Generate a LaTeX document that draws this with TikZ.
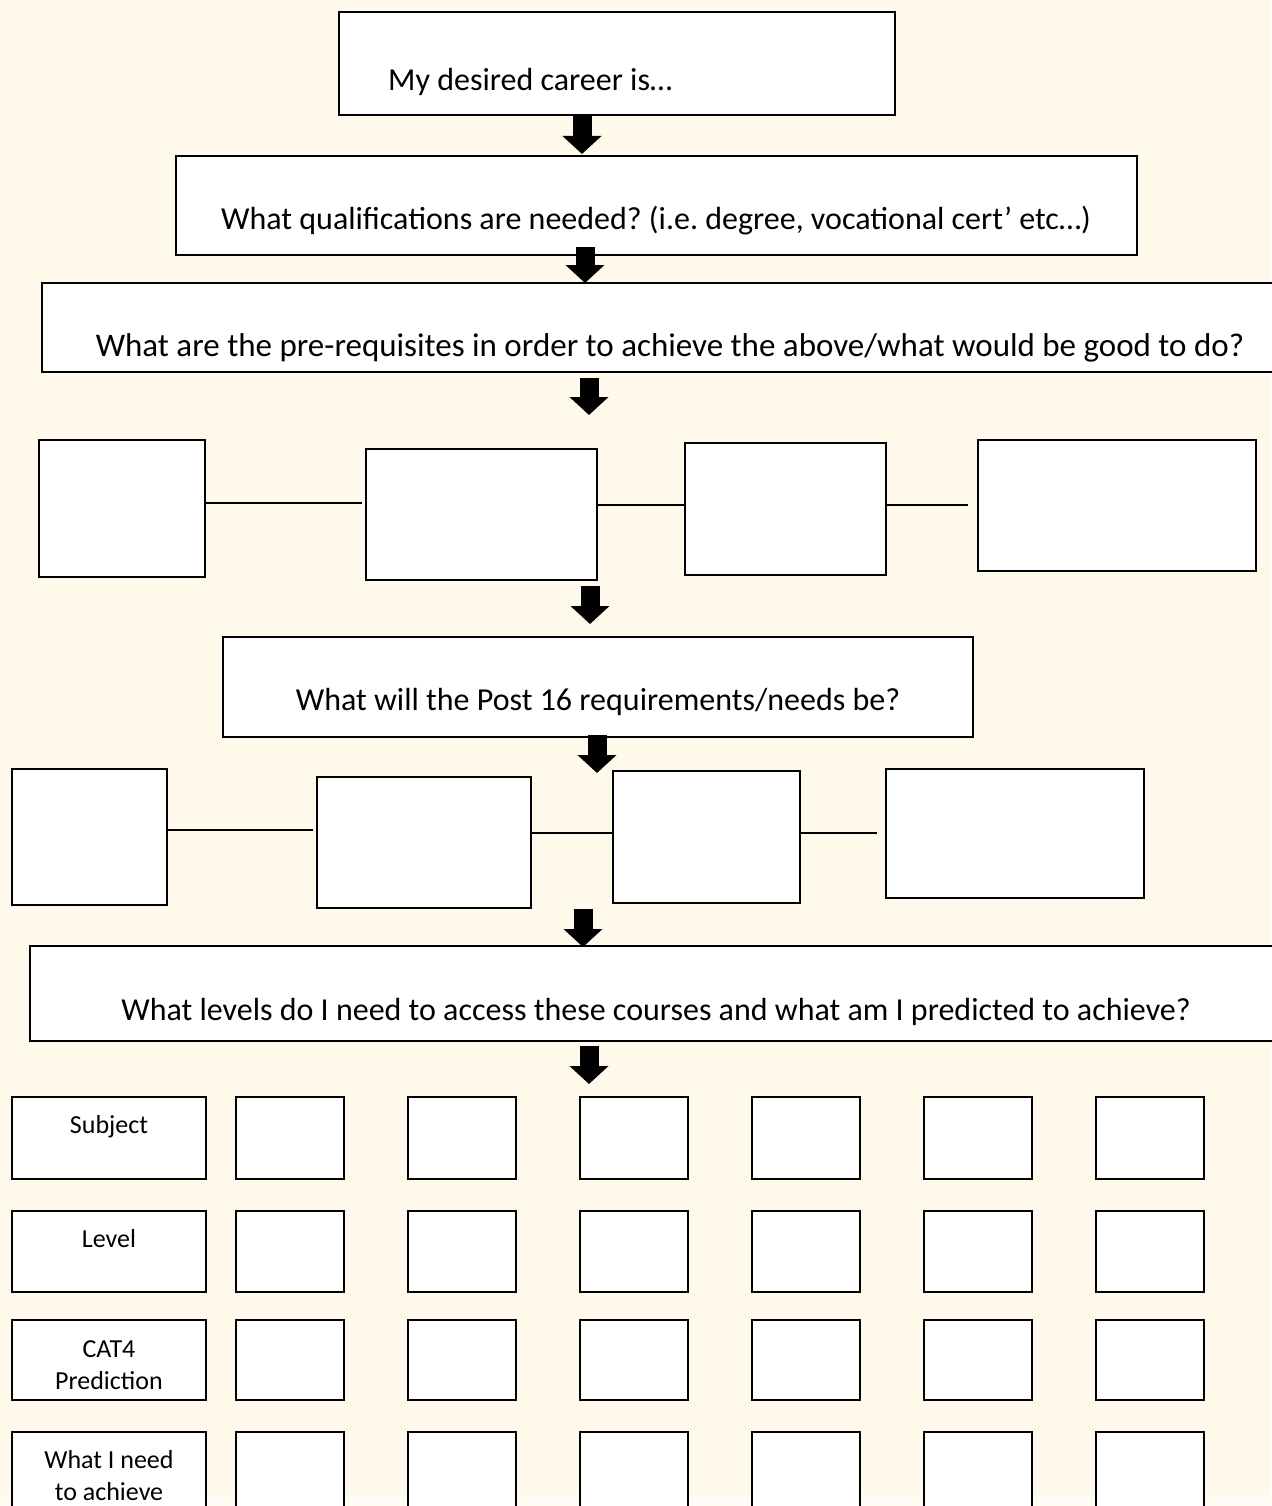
\documentclass[tikz,border=0pt]{standalone}
\usepackage{fontspec}
\setmainfont{Carlito}
\usetikzlibrary{arrows.meta}
\definecolor{bg}{RGB}{255,249,236}
\definecolor{bgstrip}{RGB}{255,252,246}
\newcommand\mybox[5]{\node[box, minimum width=#4pt, minimum height=#5pt] (#1) at (#2,#3) {};}
\frenchspacing
\begin{document}
\begin{tikzpicture}[x=1pt,y=-1pt,
  box/.style={draw=black, fill=white, line width=2pt, anchor=north west, inner sep=0pt, outer sep=0pt},
  conn/.style={draw=black, line width=1.3pt},
  blockarrow/.style={draw=black, line width=19pt, -{Triangle[width=38pt,length=18pt]}},
  maintext/.style={font=\fontsize{32}{38}\selectfont, inner sep=0pt, anchor=base},
  celltext/.style={font=\fontsize{26}{32}\selectfont, inner sep=0pt, align=center, anchor=base}]
\fill[bg] (0,0) rectangle (1271,1506);
\fill[bgstrip] (0,1495) rectangle (1271,1506);
\useasboundingbox (0,0) rectangle (1271,1506);

% main boxes
\mybox{career}{339}{12}{556}{103}
\mybox{qual}{176}{156}{961}{99}
\mybox{prereq}{42}{283}{1260}{89}
\mybox{post}{223}{637}{750}{100}
\mybox{levels}{30}{946}{1270}{95}

% row 1
\mybox{ra}{39}{440}{166}{137}
\mybox{rb}{366}{449}{231}{131}
\mybox{rc}{685}{443}{201}{132}
\mybox{rd}{978}{440}{278}{131}
% row 2
\mybox{re}{12}{769}{155}{136}
\mybox{rf}{317}{777}{214}{131}
\mybox{rg}{613}{771}{187}{132}
\mybox{rh}{886}{769}{258}{129}

% texts
\node[maintext, anchor=base west] (t1) at (388,91) {My desired career is…};
\node[maintext] (t2) at (656,230) {What qualifications are needed? (i.e. degree, vocational cert’ etc…)};
\node[maintext, font=\fontsize{33}{39}\selectfont] (t3) at (670,356) {What are the pre-requisites in order to achieve the above/what would be good to do?};
\node[maintext] (t4) at (598,710) {What will the Post 16 requirements/needs be?};
\node[maintext] (t5) at (656,1020) {What levels do I need to access these courses and what am I predicted to achieve?};

% connectors row 1
\coordinate (ab) at (362,503);
\coordinate (bc) at (685,505);
\coordinate (cd) at (968,505);
\draw[conn] (ra.east |- ab) -- (ab);
\draw[conn] (rb.east |- bc) -- (bc);
\draw[conn] (rc.east |- cd) -- (cd);
% connectors row 2
\coordinate (ef) at (313,830);
\coordinate (fg) at (613,833);
\coordinate (gh) at (877,833);
\draw[conn] (re.east |- ef) -- (ef);
\draw[conn] (rf.east |- fg) -- (fg);
\draw[conn] (rg.east |- gh) -- (gh);

% grid
\foreach \r/\y/\h in {1/1097/82, 2/1211/81, 3/1320/80, 4/1432/82}{
  \foreach \c/\x/\w in {0/12/194, 1/236/108, 2/408/108, 3/580/108, 4/752/108, 5/924/108, 6/1096/108}{
    \node[box, minimum width=\w pt, minimum height=\h pt] (g\r-\c) at (\x,\y) {};
  }
}
\node[celltext] (l1) at (109,1133) {Subject};
\node[celltext] (l2) at (109,1247) {Level};
\node[celltext] (l3) at (109,1389) {CAT4\\Prediction};
\node[celltext] (l4) at (109,1500) {What I need\\to achieve};

% block arrows
\coordinate (a1s) at (582,115);  \coordinate (a1e) at (582,154);
\coordinate (a2s) at (585,247);  \coordinate (a2e) at (585,283);
\coordinate (a3s) at (589,378);  \coordinate (a3e) at (589,415);
\coordinate (a4s) at (590,586);  \coordinate (a4e) at (590,624);
\coordinate (a5s) at (597,735);  \coordinate (a5e) at (597,773);
\coordinate (a6s) at (583,909);  \coordinate (a6e) at (583,947);
\coordinate (a7s) at (589,1046); \coordinate (a7e) at (589,1084);
\foreach \i in {1,...,7}{\draw[blockarrow] (a\i s) -- (a\i e);}
\end{tikzpicture}
\end{document}
